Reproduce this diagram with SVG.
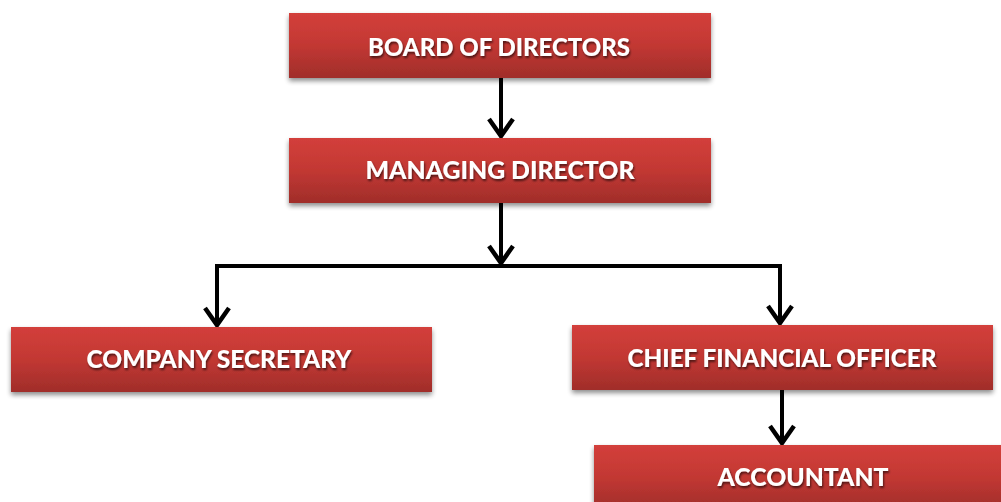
<svg xmlns="http://www.w3.org/2000/svg" width="1001" height="502" viewBox="0 0 1001 502">
  <defs>
    <linearGradient id="boxFill" x1="0" y1="0" x2="0" y2="1">
      <stop offset="0" stop-color="#d33f3b"/>
      <stop offset="0.5" stop-color="#c23833"/>
      <stop offset="1" stop-color="#a02d2a"/>
    </linearGradient>
    <filter id="boxShadow" x="-5%" y="-20%" width="110%" height="150%">
      <feGaussianBlur in="SourceAlpha" stdDeviation="2.5"/>
      <feOffset dx="0" dy="3" result="blur"/>
      <feComponentTransfer><feFuncA type="linear" slope="0.45"/></feComponentTransfer>
      <feMerge><feMergeNode/><feMergeNode in="SourceGraphic"/></feMerge>
    </filter>
    <filter id="textShadow" x="-5%" y="-30%" width="110%" height="160%">
      <feGaussianBlur in="SourceAlpha" stdDeviation="1"/>
      <feOffset dx="1" dy="1.5"/>
      <feComponentTransfer><feFuncA type="linear" slope="0.6"/></feComponentTransfer>
      <feMerge><feMergeNode/><feMergeNode in="SourceGraphic"/></feMerge>
    </filter>
    <!-- open chevron head, drawn pointing along +x so orient="auto" follows the line -->
    <marker id="chevron" viewBox="0 0 26 30" refX="23" refY="15" markerWidth="26" markerHeight="30" markerUnits="userSpaceOnUse" orient="auto">
      <path d="M5,3 L22,15 L5,27" fill="none" stroke="#000" stroke-width="4.5" stroke-linejoin="miter"/>
    </marker>
  </defs>
  <style>
    .box { fill: url(#boxFill); filter: url(#boxShadow); }
    .label { fill: #ffffff; font-family: "Lato", "Open Sans", "Liberation Sans", sans-serif; font-weight: 900; font-size: 24px; text-anchor: middle; filter: url(#textShadow); }
    .wire { fill: none; stroke: #000; stroke-width: 4; stroke-linejoin: miter; }
  </style>

  <rect width="1001" height="502" fill="#ffffff"/>

  <!-- reporting lines -->
  <g id="connectors">
    <path class="wire" d="M501,78 V137" marker-end="url(#chevron)"/>
    <path class="wire" d="M501,203 V264" marker-end="url(#chevron)"/>
    <path class="wire" d="M217,325 V266 H780 V323"/>
    <path class="wire" d="M217,300 V326" marker-end="url(#chevron)"/>
    <path class="wire" d="M780,300 V324" marker-end="url(#chevron)"/>
    <path class="wire" d="M782,390 V444" marker-end="url(#chevron)"/>
  </g>

  <g id="board-of-directors">
    <rect class="box" x="289" y="13" width="422" height="65"/>
    <text class="label" x="499" y="56" textLength="262" lengthAdjust="spacingAndGlyphs">BOARD OF DIRECTORS</text>
  </g>

  <g id="managing-director">
    <rect class="box" x="289" y="138" width="422" height="65"/>
    <text class="label" x="500" y="179" textLength="269" lengthAdjust="spacingAndGlyphs">MANAGING DIRECTOR</text>
  </g>

  <g id="company-secretary">
    <rect class="box" x="11" y="327" width="421" height="65"/>
    <text class="label" x="219" y="368" textLength="265" lengthAdjust="spacingAndGlyphs">COMPANY SECRETARY</text>
  </g>

  <g id="chief-financial-officer">
    <rect class="box" x="572" y="325" width="421" height="65"/>
    <text class="label" x="782" y="367" textLength="309" lengthAdjust="spacingAndGlyphs">CHIEF FINANCIAL OFFICER</text>
  </g>

  <g id="accountant">
    <rect class="box" x="594" y="445" width="421" height="65"/>
    <text class="label" x="803" y="486" textLength="171" lengthAdjust="spacingAndGlyphs">ACCOUNTANT</text>
  </g>
</svg>
